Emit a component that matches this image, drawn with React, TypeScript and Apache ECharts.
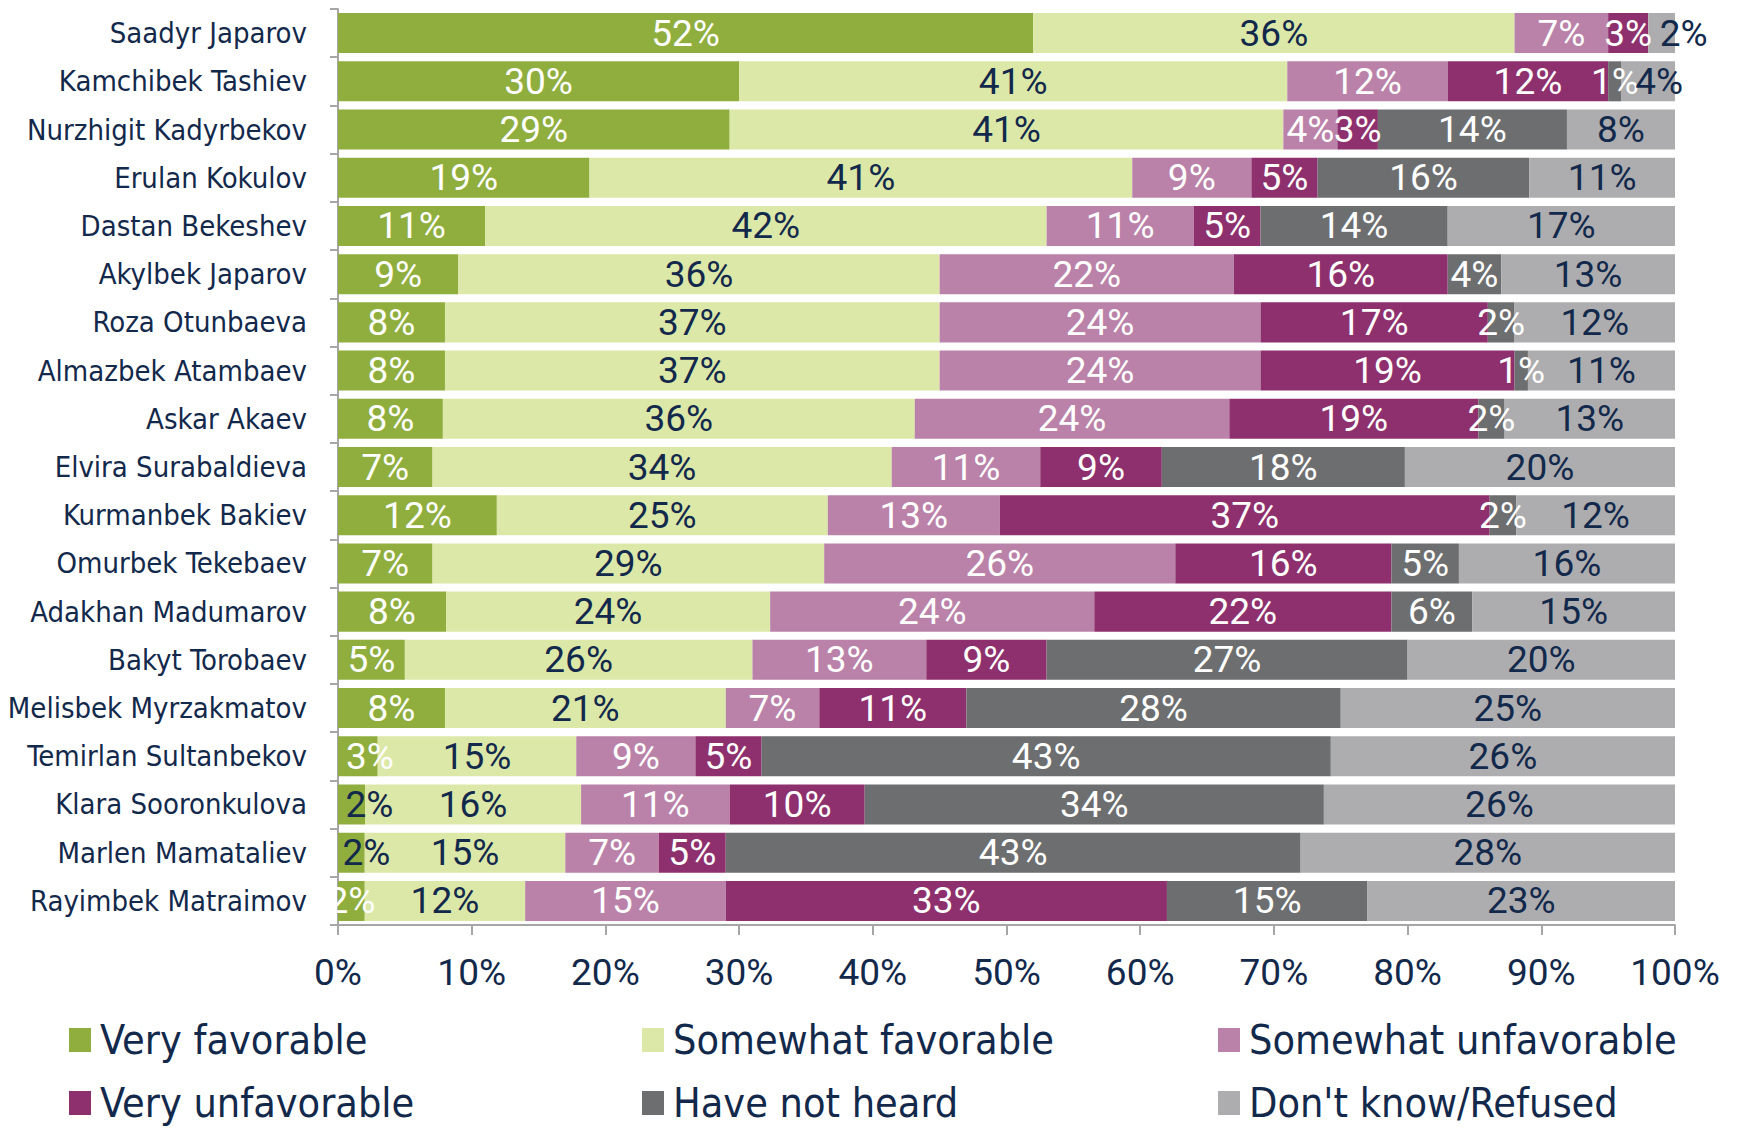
import React, { useEffect, useRef } from "react";
import * as echarts from "echarts";

const categories = [
  "Saadyr Japarov",
  "Kamchibek Tashiev",
  "Nurzhigit Kadyrbekov",
  "Erulan Kokulov",
  "Dastan Bekeshev",
  "Akylbek Japarov",
  "Roza Otunbaeva",
  "Almazbek Atambaev",
  "Askar Akaev",
  "Elvira Surabaldieva",
  "Kurmanbek Bakiev",
  "Omurbek Tekebaev",
  "Adakhan Madumarov",
  "Bakyt Torobaev",
  "Melisbek Myrzakmatov",
  "Temirlan Sultanbekov",
  "Klara Sooronkulova",
  "Marlen Mamataliev",
  "Rayimbek Matraimov",
];

const veryFavorable = [52, 30, 29, 19, 11, 9, 8, 8, 8, 7, 12, 7, 8, 5, 8, 3, 2, 2, 2];
const somewhatFavorable = [36, 41, 41, 41, 42, 36, 37, 37, 36, 34, 25, 29, 24, 26, 21, 15, 16, 15, 12];
const somewhatUnfavorable = [7, 12, 4, 9, 11, 22, 24, 24, 24, 11, 13, 26, 24, 13, 7, 9, 11, 7, 15];
const veryUnfavorable = [3, 12, 3, 5, 5, 16, 17, 19, 19, 9, 37, 16, 22, 9, 11, 5, 10, 5, 33];
const haveNotHeard = [0, 1, 14, 16, 14, 4, 2, 1, 2, 18, 2, 5, 6, 27, 28, 43, 34, 43, 15];
const dontKnow = [2, 4, 8, 11, 17, 13, 12, 11, 13, 20, 12, 16, 15, 20, 25, 26, 26, 28, 23];

const seriesNames = [
  "Very favorable",
  "Somewhat favorable",
  "Somewhat unfavorable",
  "Very unfavorable",
  "Have not heard",
  "Don't know/Refused",
];

const xTicks = [0, 10, 20, 30, 40, 50, 60, 70, 80, 90, 100];

const NAVY = "#13294b";
const COLORS = ["#8fae3e", "#dce8a8", "#bb82a9", "#8e306d", "#6d6e70", "#adadaf"];
const LABEL_COLORS = ["#ffffff", NAVY, "#ffffff", "#ffffff", "#ffffff", NAVY];
// rows whose "Very favorable" label is drawn in navy
const NAVY_VF_ROWS = ["Klara Sooronkulova", "Marlen Mamataliev"];
// horizontal nudges (px) of a few small-segment labels, as in the reference
const LABEL_NUDGES: Record<string, number> = {
  "0|Temirlan Sultanbekov": 12,
  "0|Klara Sooronkulova": 18,
  "0|Marlen Mamataliev": 15,
  "5|Saadyr Japarov": 22,
  "5|Kamchibek Tashiev": 11,
};

// legend placement: [left, top] for each series
const LEGEND_POS: [number, number][] = [
  [69, 1019],
  [642, 1019],
  [1218, 1019],
  [69, 1082],
  [642, 1082],
  [1218, 1082],
];

const LABEL_FONT = "'Liberation Sans Narrow', 'Roboto', sans-serif";
const TEXT_FONT = "'DejaVu Sans Condensed', 'Liberation Sans', sans-serif";

export default function App() {
  const ref = useRef<HTMLDivElement>(null);

  useEffect(() => {
    document.body.style.margin = "0";
    if (!ref.current) return;
    const chart = echarts.init(ref.current, undefined, { renderer: "svg" });

    const all = [veryFavorable, somewhatFavorable, somewhatUnfavorable, veryUnfavorable, haveNotHeard, dontKnow];
    const totals = categories.map((_, i) => all.reduce((s, arr) => s + arr[i], 0));

    const series = all.map((arr, si) => ({
      name: seriesNames[si],
      type: "bar",
      stack: "total",
      barCategoryGap: "17%",
      itemStyle: { color: COLORS[si] },
      label: {
        show: true,
        position: "inside",
        fontFamily: LABEL_FONT,
        fontSize: 37,
        color: LABEL_COLORS[si],
        formatter: (p: any) => (p.data.raw === 0 ? "" : p.data.raw + "%"),
      },
      data: arr.map((v, i) => {
        const item: any = { value: (v / totals[i]) * 100, raw: v };
        const lab: any = {};
        if (si === 0 && NAVY_VF_ROWS.includes(categories[i])) lab.color = NAVY;
        const nudge = LABEL_NUDGES[si + "|" + categories[i]];
        if (nudge) lab.offset = [nudge, 0];
        if (Object.keys(lab).length) item.label = lab;
        return item;
      }),
    }));

    const legends = seriesNames.map((name, i) => ({
      orient: "horizontal",
      icon: "rect",
      left: LEGEND_POS[i][0],
      top: LEGEND_POS[i][1],
      itemWidth: 22,
      itemHeight: 24,
      padding: 0,
      data: [name],
      textStyle: {
        fontFamily: TEXT_FONT,
        fontSize: 41,
        lineHeight: 42,
        color: NAVY,
        padding: [0, 0, 0, 4],
      },
    }));

    chart.setOption({
      animation: false,
      backgroundColor: "#ffffff",
      grid: { left: 338, right: 62, top: 9, bottom: 205, containLabel: false },
      legend: legends,
      xAxis: {
        type: "value",
        min: xTicks[0],
        max: xTicks[xTicks.length - 1],
        interval: 10,
        splitLine: { show: false },
        axisLine: { show: true, lineStyle: { color: "#a6a6a6", width: 2 } },
        axisTick: { show: true, length: 10, lineStyle: { color: "#a6a6a6", width: 2 } },
        axisLabel: {
          margin: 29,
          formatter: "{value}%",
          fontFamily: LABEL_FONT,
          fontSize: 37,
          color: NAVY,
        },
      },
      yAxis: {
        type: "category",
        inverse: true,
        data: categories,
        axisLine: { show: true, lineStyle: { color: "#a6a6a6", width: 2 } },
        axisTick: { show: true, length: 8, lineStyle: { color: "#a6a6a6", width: 2 } },
        axisLabel: {
          margin: 31,
          fontFamily: TEXT_FONT,
          fontSize: 29,
          color: NAVY,
        },
      },
      series,
    });

    return () => chart.dispose();
  }, []);

  return <div ref={ref} style={{ width: 1737, height: 1130 }} />;
}
